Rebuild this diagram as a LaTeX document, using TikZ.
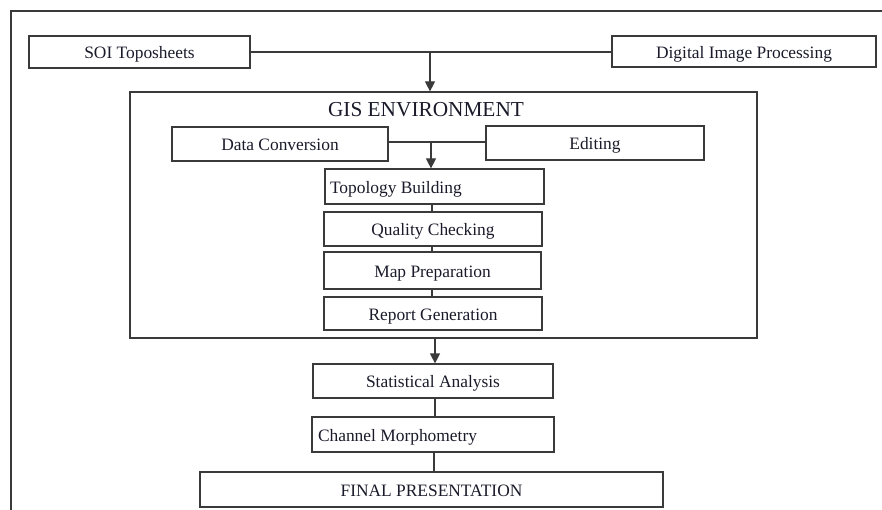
\documentclass[tikz,border=0pt]{standalone}
\usepackage{fontspec}
\setmainfont{Liberation Serif}
\usetikzlibrary{arrows.meta}
\definecolor{ln}{HTML}{3A3A3A}
\definecolor{tt}{HTML}{1A1A2A}
\begin{document}
\begin{tikzpicture}[x=1pt,y=-1pt,
  box/.style={draw=ln,line width=1.2pt,minimum width=#1,inner sep=0pt,
    text height=14pt,text depth=0.5pt,
    text=tt,font=\fontsize{17.4}{20}\selectfont},
  conn/.style={draw=ln,line width=1.2pt},
  arr/.style={conn,-{Triangle[width=10pt,length=10pt]}}]
\useasboundingbox (0,0) rectangle (882,510);
% outer frame (cut by picture edge)
\draw[conn] (11,510) -- (11,11) -- (882,11);
% top row
\node[box=221pt,minimum height=32pt] (soi) at (139.5,52) {SOI Toposheets};
\node[box=264pt,minimum height=31pt] (dip) at (744,51.5) {Digital Image Processing};
% GIS environment
\node[box=627pt,minimum height=246pt] (gis) at (443.5,215) {};
\node[text=tt,font=\fontsize{21.3}{24}\selectfont,inner sep=0pt] (gist) at (426,110) {GIS ENVIRONMENT};
\node[box=216pt,minimum height=34pt] (dc) at (280,144) {Data Conversion};
\node[box=218pt,minimum height=34pt] (ed) at (595,143) {Editing};
\node[box=219pt,minimum height=35pt,align=flush left,text width=209pt,inner xsep=5pt] (topo) at (434.5,186.5) {Topology Building};
\node[box=218pt,minimum height=34pt] (qc) at (433,229) {Quality Checking};
\node[box=217pt,minimum height=37pt] (mp) at (432.5,270.5) {Map Preparation};
\node[box=218pt,minimum height=33pt] (rg) at (433,313.5) {Report Generation};
% lower chain
\node[box=240pt,minimum height=34pt] (sa) at (433,381) {Statistical Analysis};
\node[box=242pt,minimum height=35pt,align=flush left,text width=230pt,inner xsep=6pt] (cm) at (433,434.5) {Channel Morphometry};
\node[box=463pt,minimum height=35pt] (fp) at (431.5,489.5) {FINAL PRESENTATION};
% connectors
\coordinate (j1) at (430,52);
\coordinate (j2) at (431,142);
\coordinate (j3) at (435,338);
\draw[conn] (soi.east) -- (dip.west |- soi.east);
\draw[arr] (j1) -- (j1 |- gis.north);
\draw[conn] (dc.east |- j2) -- (ed.west |- j2);
\draw[arr] (j2) -- (j2 |- topo.north);
\draw[conn] (432,204) -- (432,212);
\draw[conn] (432,246) -- (432,252);
\draw[conn] (432,289) -- (432,297);
\draw[arr] (j3) -- (j3 |- sa.north);
\draw[conn] (435,398) -- (435,417);
\draw[conn] (434,452) -- (434,472);
\end{tikzpicture}
\end{document}
